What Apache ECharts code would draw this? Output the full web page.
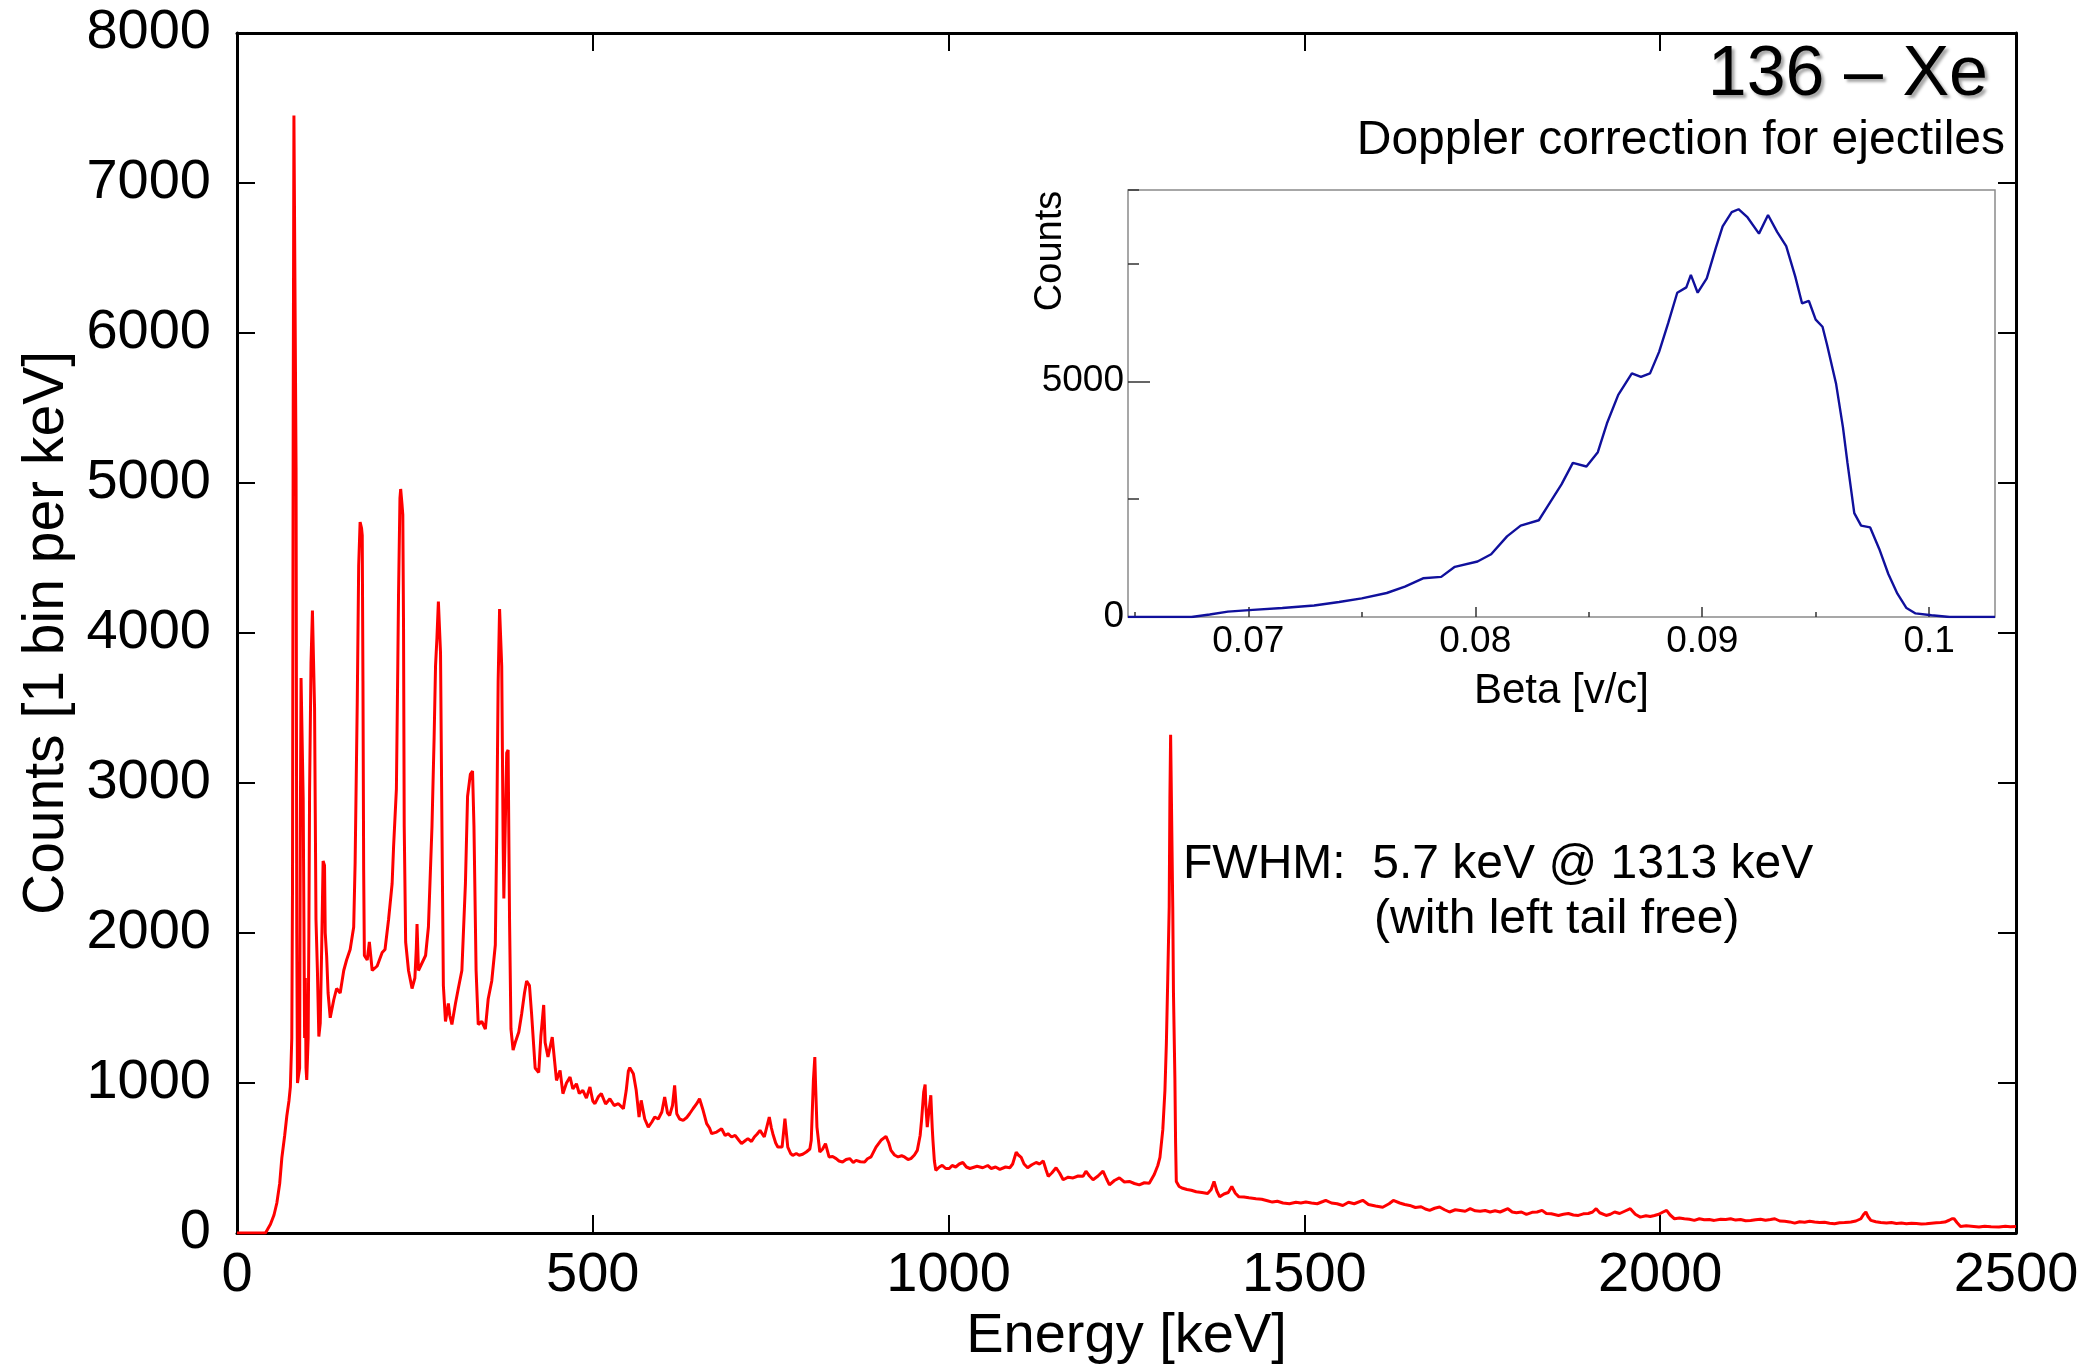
<!DOCTYPE html>
<html><head><meta charset="utf-8">
<script src="https://cdn.jsdelivr.net/npm/echarts@6/dist/echarts.min.js"></script>
<style>html,body{margin:0;padding:0;background:#fff}#c{width:2099px;height:1365px}</style>
</head><body><div id="c"></div>
<script>
// Main gamma spectrum: [energy keV, counts per keV]
const spectrumPoints = [
[0,0],[40,0],[47,58],[52,120],[56,200],[60,330],[63,500],[67,650],[70,780],[73,880],[75,975],[77,1300],[78,2300],[79,5500],[80,7450],[82,7450],[83,5100],[84,2000],[85,1000],[87,1000],[88,1100],[89,2700],[90,3700],[92,3700],[93,2900],[94,2100],[95,1300],[96,1700],[97,1100],[98,1020],[100,1300],[101,2000],[102,2950],[104,3800],[106,4150],[108,4150],[109,3500],[110,2800],[111,2090],[113,1750],[115,1310],[117,1400],[119,1900],[121,2480],[123,2450],[124,2000],[126,1845],[128,1600],[131,1435],[136,1555],[140,1630],[145,1600],[150,1750],[154,1820],[159,1890],[164,2040],[166,2470],[169,3540],[171,4450],[173,4740],[175,4700],[176,4650],[177,3680],[178,2420],[179,1850],[183,1820],[186,1940],[190,1750],[197,1780],[204,1870],[208,1890],[213,2090],[218,2330],[220,2570],[224,2960],[226,3800],[227,4260],[229,4900],[230,4960],[232,4850],[233,4790],[234,4070],[235,2710],[237,1940],[241,1750],[246,1630],[250,1700],[252,1900],[253,2060],[255,1750],[260,1800],[265,1850],[269,2040],[274,2710],[277,3300],[279,3780],[281,3970],[283,4210],[286,3870],[288,2710],[290,1650],[293,1410],[297,1530],[299,1450],[302,1390],[307,1530],[311,1630],[316,1750],[321,2330],[324,2910],[328,3060],[331,3080],[333,2710],[336,1750],[339,1390],[344,1410],[349,1360],[353,1560],[358,1680],[363,1920],[365,2660],[367,3680],[369,4160],[370,4160],[372,3780],[374,2600],[375,2230],[377,2230],[379,3200],[381,3220],[383,2090],[385,1360],[388,1220],[391,1270],[396,1340],[400,1460],[404,1600],[407,1680],[411,1650],[414,1460],[419,1100],[424,1070],[427,1310],[431,1520],[433,1270],[437,1173],[443,1306],[449,1017],[454,1084],[458,929],[463,1000],[468,1040],[472,960],[477,995],[481,930],[486,951],[491,900],[496,973],[500,880],[503,862],[508,910],[512,929],[518,860],[524,895],[530,850],[536,862],[543,829],[547,951],[550,1080],[552,1102],[557,1062],[561,951],[565,773],[568,884],[573,760],[578,706],[583,740],[587,773],[592,760],[597,807],[601,906],[605,800],[608,784],[612,850],[615,984],[618,795],[622,760],[627,751],[632,770],[636,795],[641,830],[646,862],[650,895],[655,818],[660,729],[664,700],[667,662],[674,673],[681,695],[686,650],[690,662],[695,640],[700,651],[705,620],[709,596],[714,615],[718,629],[723,610],[727,640],[731,660],[735,684],[741,640],[748,773],[751,700],[753,662],[757,600],[760,573],[766,573],[770,762],[774,573],[778,530],[781,518],[786,530],[790,518],[795,525],[800,540],[805,560],[807,618],[810,1017],[812,1173],[813,1000],[815,706],[819,540],[823,560],[827,596],[832,507],[837,510],[842,496],[846,480],[851,473],[856,490],[861,496],[866,470],[870,484],[876,475],[882,473],[886,495],[891,507],[898,573],[905,618],[912,644],[916,600],[919,551],[924,520],[929,507],[934,515],[938,507],[943,490],[947,496],[952,520],[956,551],[960,650],[962,751],[965,940],[967,990],[968,850],[970,706],[972,800],[975,918],[977,700],[978,618],[980,480],[982,418],[987,440],[991,451],[996,430],[1001,430],[1005,450],[1010,440],[1015,460],[1020,470],[1025,440],[1030,430],[1040,445],[1048,435],[1055,450],[1060,430],[1066,440],[1072,424],[1080,440],[1086,435],[1090,460],[1095,538],[1098,520],[1102,504],[1106,460],[1111,435],[1117,455],[1123,470],[1128,460],[1133,481],[1137,420],[1140,378],[1145,400],[1151,435],[1156,400],[1161,355],[1168,372],[1175,367],[1182,380],[1189,378],[1193,412],[1198,380],[1203,355],[1210,380],[1217,412],[1222,360],[1226,321],[1233,350],[1240,367],[1247,340],[1254,344],[1261,330],[1268,321],[1275,335],[1282,332],[1289,390],[1294,450],[1297,504],[1301,687],[1304,950],[1306,1259],[1308,1700],[1310,2175],[1311,2900],[1312,3321],[1314,3321],[1315,2175],[1316,1600],[1318,1031],[1319,600],[1320,344],[1324,310],[1329,298],[1335,290],[1341,285],[1348,275],[1356,270],[1364,264],[1369,290],[1373,344],[1377,280],[1381,241],[1387,260],[1393,270],[1398,310],[1403,265],[1408,241],[1415,240],[1422,235],[1432,229],[1440,225],[1448,215],[1455,206],[1462,212],[1470,200],[1479,195],[1488,205],[1495,200],[1502,206],[1510,200],[1518,195],[1526,210],[1530,218],[1538,200],[1546,195],[1554,183],[1562,205],[1570,195],[1582,218],[1590,190],[1600,180],[1610,172],[1619,195],[1625,217],[1634,200],[1641,190],[1648,184],[1656,170],[1664,175],[1670,160],[1676,151],[1683,165],[1690,173],[1697,155],[1704,140],[1712,155],[1719,150],[1726,145],[1733,162],[1740,148],[1747,145],[1754,150],[1761,140],[1768,148],[1775,140],[1780,150],[1786,162],[1792,140],[1798,135],[1805,140],[1812,124],[1820,138],[1827,140],[1834,151],[1840,130],[1847,128],[1857,117],[1864,125],[1871,130],[1878,120],[1885,117],[1892,128],[1899,130],[1905,140],[1910,162],[1915,135],[1924,117],[1930,125],[1936,140],[1943,130],[1950,145],[1958,162],[1965,125],[1972,106],[1980,115],[1986,110],[1992,117],[1998,125],[2004,140],[2009,151],[2014,120],[2020,95],[2027,100],[2034,95],[2041,92],[2048,84],[2055,95],[2062,88],[2069,90],[2076,84],[2085,92],[2092,90],[2099,95],[2106,86],[2113,90],[2120,82],[2127,84],[2134,88],[2141,92],[2148,85],[2155,90],[2161,95],[2168,80],[2175,78],[2182,74],[2189,66],[2196,75],[2203,72],[2210,78],[2217,73],[2224,70],[2231,72],[2238,65],[2245,62],[2252,68],[2259,70],[2265,72],[2268,73],[2275,80],[2282,95],[2286,125],[2289,140],[2292,110],[2296,84],[2303,75],[2310,70],[2318,66],[2325,70],[2332,64],[2339,66],[2346,62],[2353,65],[2360,63],[2367,60],[2374,62],[2381,65],[2388,68],[2394,70],[2400,73],[2406,85],[2410,95],[2413,95],[2417,70],[2422,44],[2430,48],[2437,45],[2448,40],[2456,45],[2465,42],[2476,40],[2485,45],[2492,42],[2500,44]
];
// Inset: beta distribution [beta, counts]
const betaPoints = [
[0.0647,0],[0.0675,0],[0.0683,53],[0.0691,114],[0.0702,152],[0.0715,190],[0.0729,243],[0.0740,319],[0.0750,395],[0.0761,509],[0.0769,646],[0.0777,821],[0.0785,851],[0.0791,1064],[0.0801,1178],[0.0807,1330],[0.0814,1710],[0.0820,1938],[0.0828,2052],[0.0832,2356],[0.0838,2812],[0.0843,3268],[0.0849,3192],[0.0854,3496],[0.0858,4104],[0.0863,4712],[0.0869,5168],[0.0873,5092],[0.0877,5168],[0.0881,5624],[0.0885,6232],[0.0889,6878],[0.0893,6992],[0.0895,7258],[0.0898,6878],[0.0902,7182],[0.0906,7828],[0.0909,8284],[0.0913,8588],[0.0916,8649],[0.0920,8474],[0.0925,8132],[0.0929,8527],[0.0933,8170],[0.0937,7866],[0.0941,7220],[0.0944,6650],[0.0947,6703],[0.0950,6308],[0.0953,6156],[0.0955,5776],[0.0959,4940],[0.0962,4028],[0.0964,3268],[0.0967,2204],[0.0970,1938],[0.0974,1900],[0.0978,1444],[0.0982,912],[0.0986,494],[0.0990,190],[0.0994,76],[0.1001,38],[0.1009,0],[0.1029,0]
];
const mainXRange = [0, 2500], mainXStep = 500;
const mainYRange = [0, 8000], mainYStep = 1000;
const insetXRange = [0.0647, 0.1029];
const insetYRange = [0, 9057];
const insetXMajor = [0.07, 0.08, 0.09, 0.1];
const insetXMinor = [0.065, 0.075, 0.085, 0.095];
const insetYMajorStep = 5000, insetYMinorStep = 2500;

const FONT = 'Liberation Sans';
const chart = echarts.init(document.getElementById('c'), null, {renderer: 'canvas'});
const mainLine = {show: true, onZero: false, lineStyle: {color: '#000', width: 3}};
const mainTick = {show: true, inside: true, length: 18, lineStyle: {color: '#000', width: 2}};
const plain = v => String(v);
chart.setOption({
  backgroundColor: '#fff',
  animation: false,
  grid: [
    {left: 237, right: 83, top: 33, bottom: 132, show: false, containLabel: false, outerBoundsMode: 'none'},
    {left: 1128, right: 104, top: 190, bottom: 748, show: true, borderColor: '#8a8a8a', borderWidth: 1.5,
     backgroundColor: 'transparent', containLabel: false, outerBoundsMode: 'none'}
  ],
  xAxis: [
    {gridIndex: 0, type: 'value', min: mainXRange[0], max: mainXRange[1], interval: mainXStep, position: 'bottom',
     axisLine: mainLine, axisTick: mainTick, splitLine: {show: false},
     axisLabel: {fontSize: 56, color: '#000', fontFamily: FONT, margin: 15, formatter: plain},
     name: 'Energy [keV]', nameLocation: 'middle', nameGap: 75,
     nameTextStyle: {fontSize: 56, color: '#000', fontFamily: FONT}},
    {gridIndex: 0, type: 'value', min: mainXRange[0], max: mainXRange[1], interval: mainXStep, position: 'top',
     axisLine: mainLine, axisTick: mainTick, splitLine: {show: false}, axisLabel: {show: false}},
    {gridIndex: 1, type: 'value', min: insetXRange[0], max: insetXRange[1], position: 'bottom',
     axisLine: {show: false}, splitLine: {show: false},
     axisTick: {show: true, inside: true, length: 10, customValues: insetXMajor, lineStyle: {color: '#333', width: 1.5}},
     axisLabel: {customValues: insetXMajor, fontSize: 37, color: '#000', fontFamily: FONT, margin: 6,
       formatter: v => (Math.abs(v - 0.1) < 1e-9 ? '0.1' : v.toFixed(2))},
     name: 'Beta [v/c]', nameLocation: 'middle', nameGap: 53,
     nameTextStyle: {fontSize: 42, color: '#000', fontFamily: FONT}},
    {gridIndex: 1, type: 'value', min: insetXRange[0], max: insetXRange[1], position: 'bottom',
     axisLine: {show: false}, splitLine: {show: false}, axisLabel: {show: false},
     axisTick: {show: true, inside: true, length: 5, customValues: insetXMinor, lineStyle: {color: '#333', width: 1.5}}}
  ],
  yAxis: [
    {gridIndex: 0, type: 'value', min: mainYRange[0], max: mainYRange[1], interval: mainYStep, position: 'left',
     axisLine: mainLine, axisTick: mainTick, splitLine: {show: false},
     axisLabel: {fontSize: 56, color: '#000', fontFamily: FONT, margin: 26, formatter: plain},
     name: 'Counts [1 bin per keV]', nameLocation: 'middle', nameGap: 145,
     nameTextStyle: {fontSize: 57, color: '#000', fontFamily: FONT}},
    {gridIndex: 0, type: 'value', min: mainYRange[0], max: mainYRange[1], interval: mainYStep, position: 'right',
     axisLine: mainLine, axisTick: mainTick, splitLine: {show: false}, axisLabel: {show: false}},
    {gridIndex: 1, type: 'value', min: insetYRange[0], max: insetYRange[1], interval: insetYMajorStep, position: 'left',
     axisLine: {show: false}, splitLine: {show: false},
     axisTick: {show: true, inside: true, length: 22, lineStyle: {color: '#333', width: 1.5}},
     axisLabel: {fontSize: 37, color: '#000', fontFamily: FONT, margin: 4, showMaxLabel: false,
       formatter: v => (v % insetYMajorStep === 0 ? String(v) : '')}},
    {gridIndex: 1, type: 'value', min: insetYRange[0], max: insetYRange[1], interval: insetYMinorStep, position: 'left',
     axisLine: {show: false}, splitLine: {show: false}, axisLabel: {show: false},
     axisTick: {show: true, inside: true, length: 11, lineStyle: {color: '#333', width: 1.5}}}
  ],
  series: [
    {type: 'line', xAxisIndex: 0, yAxisIndex: 0, data: spectrumPoints, showSymbol: false, symbol: 'none',
     lineStyle: {color: '#ff0000', width: 3}, clip: true, z: 3},
    {type: 'line', xAxisIndex: 2, yAxisIndex: 2, data: betaPoints, showSymbol: false, symbol: 'none',
     lineStyle: {color: '#10109c', width: 2.4}, clip: true, z: 4}
  ],
  graphic: [
    {type: 'text', x: 1988, y: 76, style: {text: '136 \u2013 Xe', align: 'right', verticalAlign: 'middle',
      fontSize: 70, fontFamily: FONT, fill: '#000', textShadowColor: 'rgba(0,0,0,0.35)', textShadowBlur: 3,
      textShadowOffsetX: 3, textShadowOffsetY: 3}},
    {type: 'text', x: 2005, y: 141, style: {text: 'Doppler correction for ejectiles', align: 'right', verticalAlign: 'middle',
      fontSize: 48, fontFamily: FONT, fill: '#000'}},
    {type: 'text', x: 1183, y: 865, style: {text: 'FWHM:  5.7 keV @ 1313 keV', align: 'left', verticalAlign: 'middle',
      fontSize: 48, fontFamily: FONT, fill: '#000'}},
    {type: 'text', x: 1374, y: 920, style: {text: '(with left tail free)', align: 'left', verticalAlign: 'middle',
      fontSize: 48, fontFamily: FONT, fill: '#000'}},
    {type: 'text', x: 1051, y: 251, rotation: Math.PI / 2, style: {text: 'Counts', align: 'center', verticalAlign: 'middle',
      fontSize: 38, fontFamily: FONT, fill: '#000'}}
  ]
});
</script></body></html>
